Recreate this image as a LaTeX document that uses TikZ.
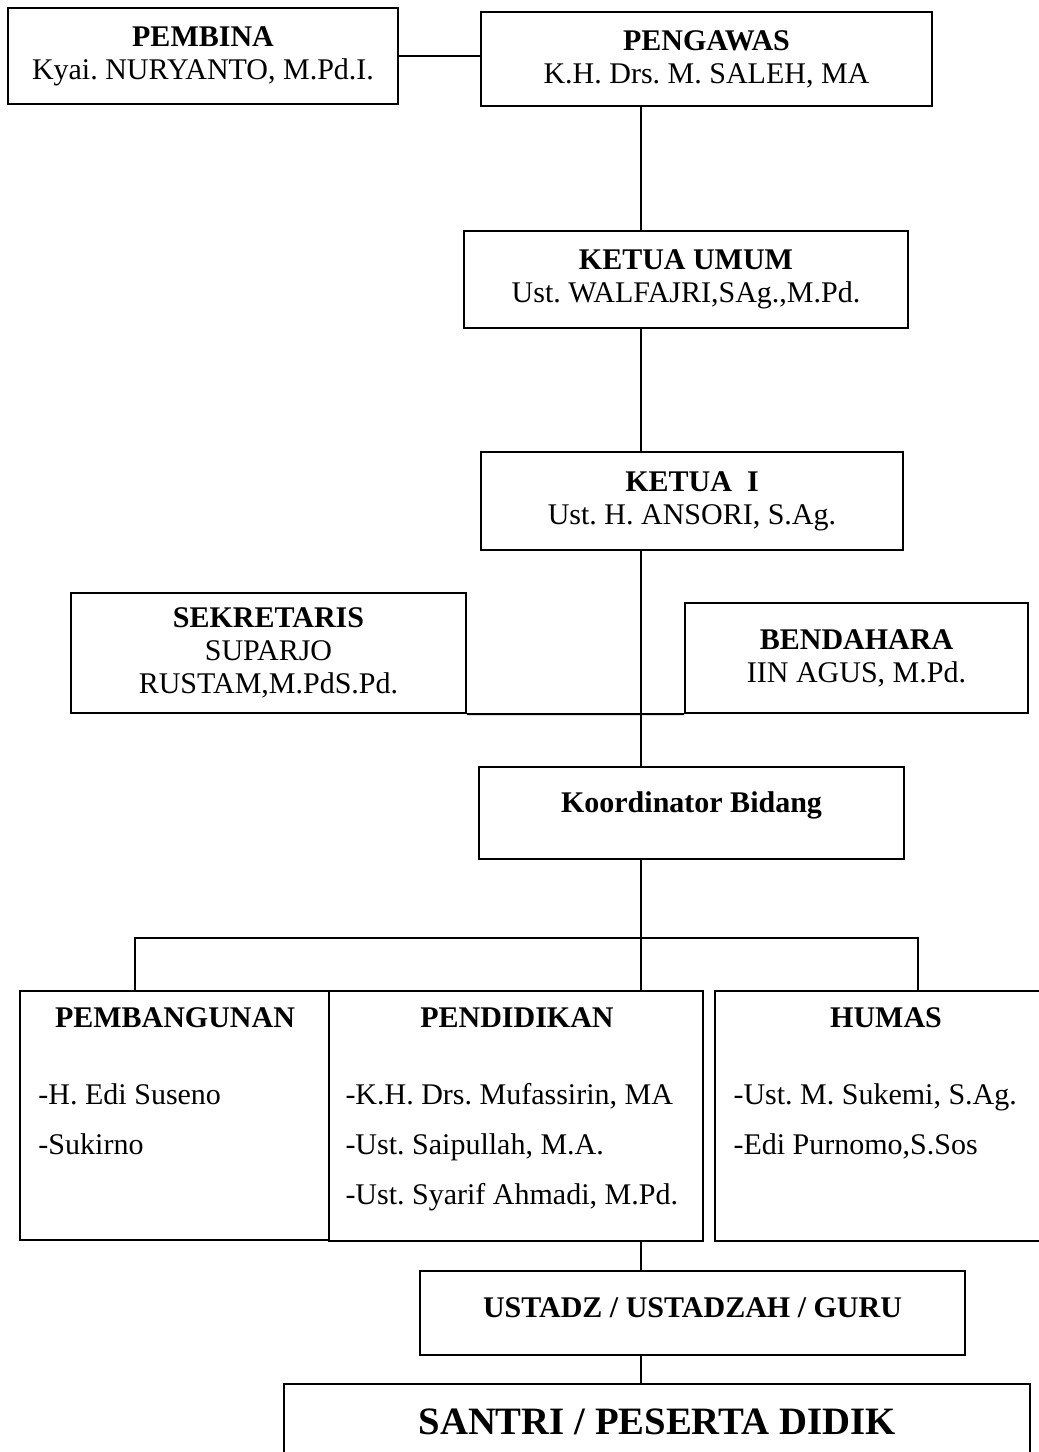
\documentclass[tikz,border=0pt]{standalone}
\usepackage{fontspec}
\setmainfont{Liberation Serif}
\usetikzlibrary{positioning}
\frenchspacing
\tikzset{box/.style = {draw, line width=0.8pt, align=center, inner sep=2pt,
                       font=\fontsize{12}{13.2}\selectfont},
         head/.style = {inner sep=0pt, text height=8.5pt, text depth=2.5pt,
                        font=\fontsize{12}{14}\selectfont\bfseries},
         item/.style = {anchor=west, inner sep=0pt, text height=8.5pt, text depth=2.5pt,
                        font=\fontsize{12}{14}\selectfont},
         link/.style = {line width=0.8pt}}

\begin{document}
\begin{tikzpicture}[x=0.4pt, y=-0.4pt]
    \useasboundingbox (0, 0) rectangle (1039, 1452);
    \coordinate (trunk) at (641, 0);
    \coordinate (busL) at (135, 938);
    \coordinate (busR) at (918, 938);

    % pimpinan
    \node (pembina) [box, minimum width=156pt, minimum height=38.4pt] at (203, 56)
        {\textbf{PEMBINA}\\Kyai. NURYANTO, M.Pd.I.};
    \node (pengawas) [box, minimum width=180.4pt, minimum height=37.6pt] at (706.5, 59)
        {\textbf{PENGAWAS}\\K.H. Drs. M. SALEH, MA};
    \node (ketuaumum) [box, minimum width=177.6pt, minimum height=38.8pt] at (686, 279)
        {\textbf{KETUA UMUM}\\Ust. WALFAJRI,SAg.,M.Pd.};
    \node (ketua1) [box, minimum width=168.8pt, minimum height=39.2pt] at (692, 501)
        {\textbf{KETUA\ \ I}\\Ust. H. ANSORI, S.Ag.};
    \node (sekretaris) [box, minimum width=158pt, minimum height=48pt] at (268.5, 653)
        {\textbf{SEKRETARIS}\\SUPARJO\\RUSTAM,M.PdS.Pd.};
    \node (bendahara) [box, minimum width=137.2pt, minimum height=44pt] at (856.5, 658)
        {\textbf{BENDAHARA}\\IIN AGUS, M.Pd.};
    \node (koordinator) [box, minimum width=170pt, minimum height=36.8pt, text depth=9pt]
        at (691.5, 813) {\textbf{Koordinator Bidang}};

    % bidang
    \node (pembangunan) [box, minimum width=123.6pt, minimum height=99.6pt] at (174.5, 1115.5) {};
    \node (pendidikan) [box, minimum width=149.6pt, minimum height=100pt] at (516, 1116) {};
    \node (humas) [box, minimum width=134pt, minimum height=100pt] at (882.5, 1116) {};
    \node (pembangunanhead) [head] at (175, 1020) {PEMBANGUNAN};
    \node (pendidikanhead) [head] at (517, 1020) {PENDIDIKAN};
    \node (humashead) [head] at (886, 1020) {HUMAS};
    \node (suseno) [item] at (38, 1097) {-H. Edi Suseno};
    \node (sukirno) [item] at (38, 1147) {-Sukirno};
    \node (mufassirin) [item] at (345, 1097) {-K.H. Drs. Mufassirin, MA};
    \node (saipullah) [item] at (345, 1147) {-Ust. Saipullah, M.A.};
    \node (syarif) [item] at (345, 1197) {-Ust. Syarif Ahmadi, M.Pd.};
    \node (sukemi) [item] at (733, 1097) {-Ust. M. Sukemi, S.Ag.};
    \node (purnomo) [item] at (733, 1147) {-Edi Purnomo,S.Sos};

    \node (ustadz) [box, minimum width=218pt, minimum height=33.6pt, text depth=4pt]
        at (692.5, 1313) {\textbf{USTADZ / USTADZAH / GURU}};
    \node (santri) [box, minimum width=298.4pt, minimum height=30.4pt,
                    font=\fontsize{15.5}{18}\selectfont\bfseries] at (657, 1422)
        {SANTRI / PESERTA DIDIK};

    % garis
    \draw [link] (pembina.east) -- (pembina.east -| pengawas.west);
    \draw [link] (pengawas.south -| trunk) -- (ketuaumum.north -| trunk);
    \draw [link] (ketuaumum.south -| trunk) -- (ketua1.north -| trunk);
    \draw [link] (ketua1.south -| trunk) -- (koordinator.north -| trunk);
    \draw [link] (sekretaris.south east) -- (bendahara.south west);
    \draw [link] (koordinator.south -| trunk) -- (pendidikan.north -| trunk);
    \draw [link] (pembangunan.north -| busL) -- (busL) -- (busR) -- (humas.north -| busR);
    \draw [link] (pendidikan.south -| trunk) -- (ustadz.north -| trunk);
    \draw [link] (ustadz.south -| trunk) -- (santri.north -| trunk);
\end{tikzpicture}
\end{document}
